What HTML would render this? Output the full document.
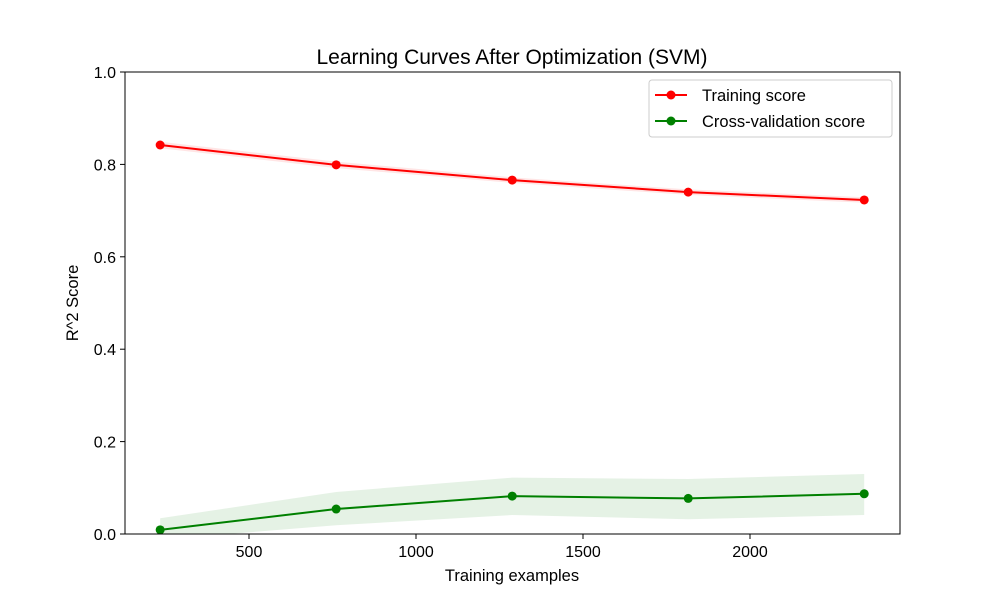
<!DOCTYPE html>
<html><head><meta charset="utf-8"><style>
body{margin:0;background:#fff;font-family:"Liberation Sans","DejaVu Sans",sans-serif;}
</style></head><body>
<svg id="chart" width="1000" height="600" xmlns="http://www.w3.org/2000/svg">
<defs><clipPath id="clip"><rect x="125" y="72" width="775" height="462"/></clipPath></defs>
<rect width="1000" height="600" fill="#fff"/>
<text x="512" y="64" font-size="21" text-anchor="middle">Learning Curves After Optimization (SVM)</text>
<g id="bands" clip-path="url(#clip)"></g>
<g id="lines" clip-path="url(#clip)"></g>
<g id="axes"></g>
</svg>
<script>
const trainSizes=[234,761,1288,1815,2342];
const trainMean=[0.842,0.799,0.766,0.740,0.723];
const trainUpper=[0.849,0.806,0.772,0.746,0.729];
const trainLower=[0.835,0.792,0.760,0.734,0.717];
const cvMean=[0.009,0.054,0.082,0.077,0.087];
const cvUpper=[0.034,0.091,0.122,0.119,0.130];
const cvLower=[-0.012,0.019,0.041,0.032,0.041];
const xTicks=[500,1000,1500,2000];
const yTicks=[0.0,0.2,0.4,0.6,0.8,1.0];
const NS="http://www.w3.org/2000/svg";
const X=v=>82+v*0.334;
const Y=v=>534-v*462;
function mk(tag,attrs,parent){const e=document.createElementNS(NS,tag);for(const k in attrs)e.setAttribute(k,attrs[k]);parent.appendChild(e);return e;}
const bands=document.getElementById('bands'),lines=document.getElementById('lines'),axes=document.getElementById('axes');
function band(up,lo,color,name){
  let d=trainSizes.map((s,i)=>(i?'L':'M')+X(s)+','+Y(up[i])).join(' ');
  for(let i=trainSizes.length-1;i>=0;i--)d+=' L'+X(trainSizes[i])+','+Y(lo[i]);
  const p=mk('path',{d:d+' Z',fill:color,'fill-opacity':0.1},bands);
  
  
}
band(trainUpper,trainLower,'red','training-score-band');
band(cvUpper,cvLower,'green','cv-score-band');
function series(vals,color,name){
  const p=mk('polyline',{points:trainSizes.map((s,i)=>X(s)+','+Y(vals[i])).join(' '),fill:'none',stroke:color,'stroke-width':2},lines);
  
  
  trainSizes.forEach((s,i)=>{
    const c=mk('circle',{cx:X(s),cy:Y(vals[i]),r:4.5,fill:color},lines);
    
    
  });
}
series(trainMean,'red','training-score');
series(cvMean,'green','cv-score');
const frame=mk('rect',{x:125,y:72,width:775,height:462,fill:'none',stroke:'#000','stroke-width':1},axes);


xTicks.forEach(t=>{
  mk('line',{x1:X(t),x2:X(t),y1:534,y2:539,stroke:'#000'},axes);
  const tx=mk('text',{x:X(t),y:557,'font-size':16,'text-anchor':'middle'},axes);
  tx.textContent=t;
  
  
});
yTicks.forEach(t=>{
  mk('line',{x1:120,x2:125,y1:Y(t),y2:Y(t),stroke:'#000'},axes);
  const tx=mk('text',{x:116,y:Y(t)+6,'font-size':16,'text-anchor':'end'},axes);
  tx.textContent=t.toFixed(1);
  
  
});
</script>
<svg style="position:absolute;left:0;top:0" width="1000" height="600" xmlns="http://www.w3.org/2000/svg">
<text x="512" y="581" font-size="16.5" text-anchor="middle">Training examples</text>
<text x="78" y="303" font-size="16.5" text-anchor="middle" transform="rotate(-90 78 303)">R^2 Score</text>
<g>
<rect x="649" y="80" width="243" height="57" rx="3" fill="#fff" fill-opacity="0.8" stroke="#ccc"/>
<g>
<line x1="655" x2="687" y1="95" y2="95" stroke="red" stroke-width="2"/><circle cx="671" cy="95" r="4.5" fill="red"/>
<text x="702" y="101" font-size="16.5">Training score</text></g>
<g>
<line x1="655" x2="687" y1="121" y2="121" stroke="green" stroke-width="2"/><circle cx="671" cy="121" r="4.5" fill="green"/>
<text x="702" y="127" font-size="16.5">Cross-validation score</text></g>
</g>
</svg>
</body></html>
